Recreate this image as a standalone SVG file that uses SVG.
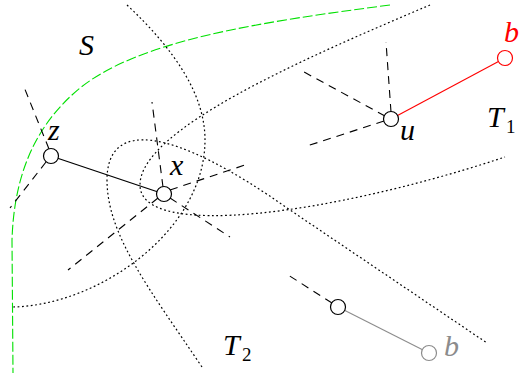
<svg xmlns="http://www.w3.org/2000/svg" width="520" height="380" viewBox="0 0 520 380">
<style>
.dot{fill:none;stroke:#000;stroke-width:1.2;stroke-dasharray:1.8 2.6}
.dash{fill:none;stroke:#000;stroke-width:1.1;stroke-dasharray:8 6}
.green{fill:none;stroke:#00e000;stroke-width:1.1;stroke-dasharray:10 3}
.node{fill:#fff;stroke:#000;stroke-width:1.2}
.lbl{font-family:"Liberation Serif","DejaVu Serif",serif;font-style:italic;font-size:30px;fill:#000}
.sub{font-family:"Liberation Serif","DejaVu Serif",serif;font-size:19px;fill:#000}
</style>
<rect width="520" height="380" fill="#fff"/>
<g id="regions">
<path class="green" d="M390,5 C260,22 140,40 80,88 C35,125 14,175 12,240 L13,373"/>
<path class="dot" d="M127,5 C175,50 205,95 205,140 C205,230 100,305 13,307"/>
<path class="dot" d="M430,5 C300,60 140,130 140,185 C140,240 330,215 505,157"/>
<path class="dot" d="M202,367 C150,290 107,235 107,180 C107,120 170,125 290,210 L487,343"/>
</g>
<g id="connectors">
<line class="dash" x1="49" y1="149" x2="24" y2="87"/>
<line class="dash" x1="46" y1="162" x2="10" y2="208"/>
<line class="dash" x1="163" y1="187" x2="152" y2="102"/>
<line class="dash" x1="170" y1="190" x2="248" y2="164"/>
<line class="dash" x1="170" y1="198" x2="230" y2="237"/>
<line class="dash" x1="158" y1="198" x2="68" y2="270"/>
<line class="dash" x1="391" y1="112" x2="386" y2="42"/>
<line class="dash" x1="385" y1="116" x2="304" y2="72"/>
<line class="dash" x1="384" y1="121" x2="307" y2="146"/>
<line class="dash" x1="332" y1="303" x2="285" y2="273"/>
<line x1="51" y1="156" x2="164" y2="194" stroke="#000" stroke-width="1.3"/>
<line x1="391" y1="119" x2="505" y2="58" stroke="#ff0000" stroke-width="1.1"/>
<line x1="338" y1="307" x2="429" y2="353" stroke="#8c8c8c" stroke-width="1.1"/>
</g>
<g id="node-z"><circle class="node" cx="51" cy="156" r="7.5"/><text class="lbl" x="48" y="140">z</text></g>
<g id="node-x"><circle class="node" cx="164" cy="194" r="7.5"/><text class="lbl" x="170" y="175">x</text></g>
<g id="node-u"><circle class="node" cx="391" cy="119" r="7.5"/><text class="lbl" x="400" y="140">u</text></g>
<g id="node-bprime"><circle class="node" cx="505" cy="58" r="7.5" style="stroke:#ff0000"/><text class="lbl" x="504" y="42" style="fill:#ff0000">b</text></g>
<g id="node-w"><circle class="node" cx="338" cy="307" r="7.5"/></g>
<g id="node-b"><circle class="node" cx="429" cy="353" r="7.5" style="stroke:#8c8c8c"/><text class="lbl" x="444" y="356" style="fill:#8c8c8c">b</text></g>
<g id="labels">
<text class="lbl" x="79" y="55">S</text>
<text class="lbl" x="487" y="127">T</text><text class="sub" x="506" y="133">1</text>
<text class="lbl" x="223" y="355">T</text><text class="sub" x="242" y="361">2</text>
</g>
</svg>
